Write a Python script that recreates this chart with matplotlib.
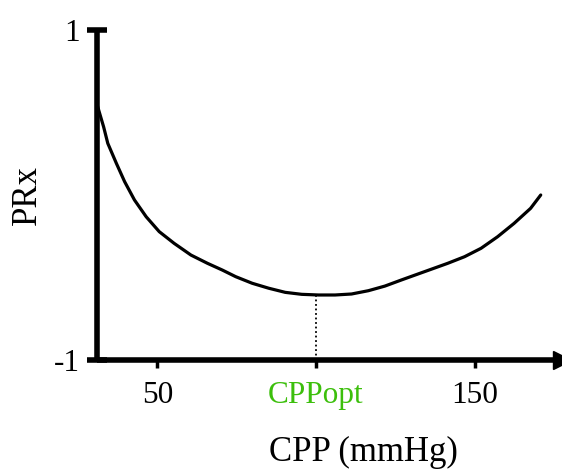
import matplotlib
matplotlib.use("Agg")
import matplotlib.pyplot as plt

plt.rcParams["font.family"] = ["Liberation Serif", "DejaVu Serif"]

# PRx vs CPP curve
cpp = [31.0, 31.8, 33.1, 34.4, 37.1, 39.7, 42.8, 46.5, 50.6, 55.3,
       60.6, 65.8, 70.5, 74.7, 79.9, 85.1, 90.3, 95.5, 100.8, 106.0,
       111.2, 116.5, 121.7, 126.9, 132.1, 136.3, 141.5, 146.8, 152.0, 157.2,
       162.4, 167.6, 170.8]
prx = [0.55, 0.497, 0.412, 0.313, 0.192, 0.081, -0.030, -0.132, -0.222, -0.293,
       -0.364, -0.414, -0.455, -0.495, -0.535, -0.565, -0.590, -0.602, -0.606, -0.606,
       -0.600, -0.580, -0.552, -0.515, -0.479, -0.450, -0.414, -0.374, -0.323, -0.253,
       -0.172, -0.081, 0.0]

cpp_opt = 100
prx_opt = -0.606
x_ticks = [50, cpp_opt, 150]
x_ticklabels = ["50", "CPPopt", "150"]
y_ticks = [-1, 1]
y_ticklabels = ["-1", "1"]

W, H = 562, 471
fig = plt.figure(figsize=(W / 100, H / 100), dpi=100)
ax = fig.add_axes([97 / W, 1 - 360 / H, 1 - 97 / W, 330 / H])

ax.plot(cpp, prx, color="black", lw=2.3, solid_capstyle="round", solid_joinstyle="round")
ax.plot([cpp_opt, cpp_opt], [-1, prx_opt], color="black", lw=1.3, ls=(0, (1, 1.5)))

ax.set_xlim(31, 177.5)
ax.set_ylim(-1, 1)

for s in ["top", "right"]:
    ax.spines[s].set_visible(False)
for s in ["left", "bottom"]:
    ax.spines[s].set_linewidth(4)
    ax.spines[s].set_capstyle("butt")

# arrowhead at the end of the x axis
ax.plot(1, 0, marker=">", ms=13, color="black", transform=ax.transAxes, clip_on=False)

ax.set_xticks(x_ticks)
ax.set_xticklabels(x_ticklabels, fontsize=22.5)
ax.get_xticklabels()[1].set_color("#3cbf0c")
ax.tick_params(axis="x", direction="out", length=6, width=2.5, pad=9)

ax.set_yticks(y_ticks)
ax.set_yticklabels(y_ticklabels, fontsize=22.5)
ax.tick_params(axis="y", direction="inout", length=15, width=4, pad=5)

fig.text(363 / W, 1 - 452 / H, "CPP (mmHg)", fontsize=25, ha="center", va="center")
fig.text(27 / W, 1 - 195 / H, "PRx", fontsize=25, rotation=90, ha="center", va="center")

fig.savefig("out.png", dpi=100)
